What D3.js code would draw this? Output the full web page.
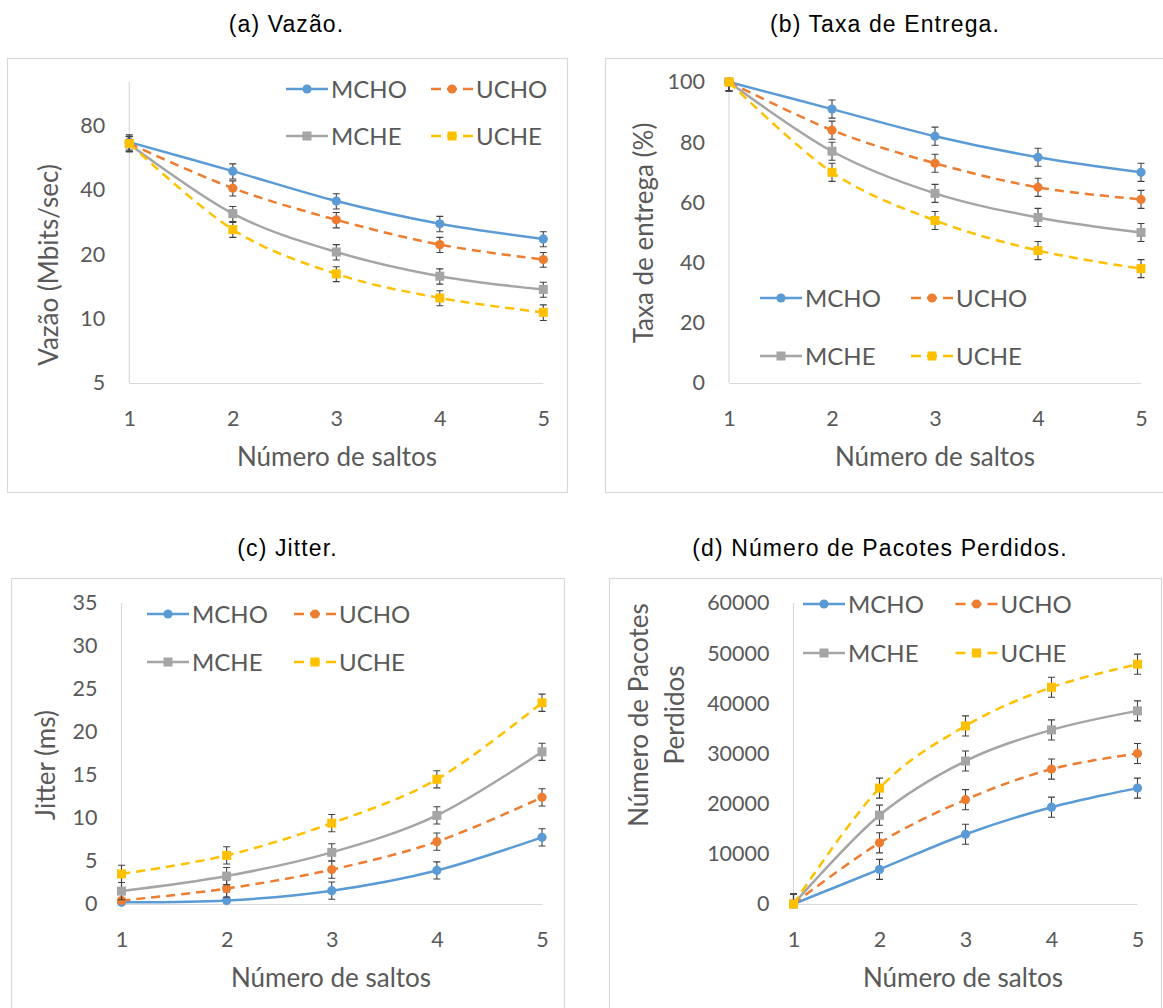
<!DOCTYPE html>
<html>
<head>
<meta charset="utf-8">
<script src="https://cdn.jsdelivr.net/npm/d3@7"></script>
<style>
  html, body { margin: 0; padding: 0; background: #fff; }
  svg { display: block; }
</style>
</head>
<body>
<svg id="chart" width="1163" height="1008"></svg>
<script>
// ---------------- DATA ----------------
const hops = [1, 2, 3, 4, 5];
const seriesNames = ["MCHO", "UCHO", "MCHE", "UCHE"];

// (a) Vazão (Mbits/sec) - log2 axis
const vazaoMCHO = [67, 49, 35.5, 27.8, 23.6];
const vazaoUCHO = [66, 40.8, 29, 22.2, 18.9];
const vazaoMCHE = [65.7, 31, 20.5, 15.8, 13.7];
const vazaoUCHE = [66, 26.1, 16.2, 12.5, 10.7];
const vazaoErrMCHO = [5.5, 4, 2.9, 2.3, 1.9];
const vazaoErrUCHO = [5.4, 3.3, 2.4, 1.8, 1.5];
const vazaoErrMCHE = [5.4, 2.5, 1.7, 1.3, 1.1];
const vazaoErrUCHE = [5.4, 2.1, 1.3, 1.0, 0.9];
const vazaoTicks = [5, 10, 20, 40, 80];

// (b) Taxa de entrega (%)
const taxaMCHO = [100, 91, 82, 75, 70];
const taxaUCHO = [100, 84, 73, 65, 61];
const taxaMCHE = [100, 77, 63, 55, 50];
const taxaUCHE = [100, 70, 54, 44, 38];
const taxaErr = [3, 3, 3, 3, 3];
const taxaTicks = [0, 20, 40, 60, 80, 100];

// (c) Jitter (ms)
const jitterMCHO = [0.2, 0.4, 1.55, 3.9, 7.75];
const jitterUCHO = [0.4, 1.8, 4.0, 7.25, 12.4];
const jitterMCHE = [1.5, 3.25, 6.0, 10.3, 17.7];
const jitterUCHE = [3.5, 5.65, 9.4, 14.5, 23.4];
const jitterErr = [1, 1, 1, 1, 1];
const jitterTicks = [0, 5, 10, 15, 20, 25, 30, 35];

// (d) Número de Pacotes Perdidos
const perdidosMCHO = [0, 6900, 13900, 19300, 23100];
const perdidosUCHO = [0, 12200, 20800, 26900, 30000];
const perdidosMCHE = [0, 17700, 28500, 34700, 38500];
const perdidosUCHE = [0, 23100, 35500, 43200, 47800];
const perdidosErr = [2000, 2000, 2000, 2000, 2000];
const perdidosTicks = [0, 10000, 20000, 30000, 40000, 50000, 60000];

// ---------------- STYLE ----------------
const colors = { MCHO: "#5B9BD5", UCHO: "#ED7D31", MCHE: "#A5A5A5", UCHE: "#FFC000" };
const dashed = { MCHO: false, UCHO: true, MCHE: false, UCHE: true };
const shape = { MCHO: "circle", UCHO: "circle", MCHE: "square", UCHE: "square" };
const FONT = "Lato, 'Open Sans', sans-serif";
const TITLE_FONT = "'Liberation Sans', Arial, sans-serif";
const GREY_TXT = "#595959";
const AXIS_LINE = "#d9d9d9";

const svg = d3.select("#chart");

const panels = [
  {
    title: "(a) Vazão.", titleX: 286.5, titleY: 31.5,
    frame: [7, 58, 567, 492],
    xr: [129.3, 543.3], yr: [383, 82],
    yScale: () => d3.scaleLog().base(2).domain([5, 128]),
    ticks: vazaoTicks,
    data: { MCHO: vazaoMCHO, UCHO: vazaoUCHO, MCHE: vazaoMCHE, UCHE: vazaoUCHE },
    err: { MCHO: vazaoErrMCHO, UCHO: vazaoErrUCHO, MCHE: vazaoErrMCHE, UCHE: vazaoErrUCHE },
    ylabel: ["Vazão (Mbits/sec)"], ylabelX: [58], ylabelY: 265,
    xlabelX: 337, xlabelY: 466,
    legend: { x0: 286, x1: 431, y0: 89, y1: 136 }
  },
  {
    title: "(b) Taxa de Entrega.", titleX: 885, titleY: 31.5,
    frame: [605, 58, 1175, 492],
    xr: [729, 1141], yr: [383, 82],
    yScale: () => d3.scaleLinear().domain([0, 100]),
    ticks: taxaTicks,
    data: { MCHO: taxaMCHO, UCHO: taxaUCHO, MCHE: taxaMCHE, UCHE: taxaUCHE },
    err: { MCHO: taxaErr, UCHO: taxaErr, MCHE: taxaErr, UCHE: taxaErr },
    ylabel: ["Taxa de entrega (%)"], ylabelX: [653], ylabelY: 233,
    xlabelX: 935, xlabelY: 466,
    legend: { x0: 760, x1: 911, y0: 298, y1: 356 }
  },
  {
    title: "(c) Jitter.", titleX: 287.5, titleY: 555.5,
    frame: [11, 578, 564, 1030],
    xr: [121.5, 542], yr: [904, 603],
    yScale: () => d3.scaleLinear().domain([0, 35]),
    ticks: jitterTicks,
    data: { MCHO: jitterMCHO, UCHO: jitterUCHO, MCHE: jitterMCHE, UCHE: jitterUCHE },
    err: { MCHO: jitterErr, UCHO: jitterErr, MCHE: jitterErr, UCHE: jitterErr },
    ylabel: ["Jitter (ms)"], ylabelX: [55], ylabelY: 765,
    xlabelX: 331, xlabelY: 987,
    legend: { x0: 147, x1: 294, y0: 614, y1: 662 }
  },
  {
    title: "(d) Número de Pacotes Perdidos.", titleX: 880, titleY: 555.5,
    frame: [609, 578, 1161, 1030],
    xr: [793.5, 1137.5], yr: [904, 603],
    yScale: () => d3.scaleLinear().domain([0, 60000]),
    ticks: perdidosTicks,
    data: { MCHO: perdidosMCHO, UCHO: perdidosUCHO, MCHE: perdidosMCHE, UCHE: perdidosUCHE },
    err: { MCHO: perdidosErr, UCHO: perdidosErr, MCHE: perdidosErr, UCHE: perdidosErr },
    ylabel: ["Número de Pacotes", "Perdidos"], ylabelX: [648, 684], ylabelY: 715,
    xlabelX: 963, xlabelY: 987,
    legend: { x0: 803, x1: 955.5, y0: 604, y1: 653 }
  }
];

function drawMarker(g, name, cx, cy) {
  if (shape[name] === "circle") {
    g.append("circle").attr("cx", cx).attr("cy", cy).attr("r", 4.6)
      .attr("fill", colors[name]);
  } else {
    g.append("rect").attr("x", cx - 4.5).attr("y", cy - 4.5)
      .attr("width", 9).attr("height", 9).attr("fill", colors[name]);
  }
}

panels.forEach((p, pi) => {
  const g = svg.append("g");
  // frame
  g.append("rect")
    .attr("x", p.frame[0] + 0.5).attr("y", p.frame[1] + 0.5)
    .attr("width", p.frame[2] - p.frame[0]).attr("height", p.frame[3] - p.frame[1])
    .attr("fill", "none").attr("stroke", AXIS_LINE).attr("stroke-width", 1.2);

  // title
  svg.append("text").attr("x", p.titleX).attr("y", p.titleY)
    .attr("text-anchor", "middle").attr("font-family", TITLE_FONT)
    .attr("font-size", 23).attr("letter-spacing", 1.1).attr("fill", "#000")
    .text(p.title);

  const x = d3.scaleLinear().domain([1, 5]).range(p.xr);
  const y = p.yScale().range(p.yr);

  // axes lines
  g.append("line").attr("x1", p.xr[0]).attr("x2", p.xr[1])
    .attr("y1", p.yr[0] + 0.5).attr("y2", p.yr[0] + 0.5)
    .attr("stroke", AXIS_LINE).attr("stroke-width", 1.2);
  g.append("line").attr("x1", p.xr[0]).attr("x2", p.xr[0])
    .attr("y1", p.yr[0]).attr("y2", p.yr[1])
    .attr("stroke", AXIS_LINE).attr("stroke-width", 1.2);

  // y axis
  const yAxis = d3.axisLeft(y).tickValues(p.ticks).tickSize(0).tickPadding(24)
    .tickFormat(d3.format("d"));
  const ya = g.append("g").attr("transform", `translate(${p.xr[0]},0)`).call(yAxis);
  ya.select(".domain").remove();
  ya.selectAll("text").attr("font-family", FONT).attr("font-size", 21.5)
    .attr("fill", GREY_TXT);

  // x axis
  const xAxis = d3.axisBottom(x).tickValues(hops).tickSize(0).tickPadding(28)
    .tickFormat(d3.format("d"));
  const xa = g.append("g").attr("transform", `translate(0,${p.yr[0]})`).call(xAxis);
  xa.select(".domain").remove();
  xa.selectAll("text").attr("font-family", FONT).attr("font-size", 21.5)
    .attr("fill", GREY_TXT);

  // axis titles
  g.append("text").attr("x", p.xlabelX).attr("y", p.xlabelY)
    .attr("text-anchor", "middle").attr("font-family", FONT).attr("font-size", 26)
    .attr("fill", GREY_TXT).text("Número de saltos");
  p.ylabel.forEach((t, i) => {
    g.append("text")
      .attr("transform", `translate(${p.ylabelX[i]},${p.ylabelY}) rotate(-90)`)
      .attr("text-anchor", "middle").attr("font-family", FONT).attr("font-size", 26)
      .attr("fill", GREY_TXT).text(t);
  });

  // clip for plot area
  const clipId = "clip" + pi;
  svg.append("clipPath").attr("id", clipId).append("rect")
    .attr("x", p.xr[0] - 20).attr("y", Math.min(p.yr[1], p.yr[0]) - 1)
    .attr("width", p.xr[1] - p.xr[0] + 40).attr("height", Math.abs(p.yr[0] - p.yr[1]) + 1.5);

  const line = d3.line().x((d, i) => x(hops[i])).y(d => y(d))
    .curve(d3.curveCardinal.tension(0));

  seriesNames.forEach(name => {
    const vals = p.data[name];
    const errs = p.err[name];
    const sg = g.append("g");
    sg.append("path").datum(vals).attr("d", line)
      .attr("fill", "none").attr("stroke", colors[name]).attr("stroke-width", 2.5)
      .attr("stroke-dasharray", dashed[name] ? "9,6" : null)
      .attr("stroke-linecap", "butt");
    // error bars
    const eg = sg.append("g").attr("clip-path", `url(#${clipId})`)
      .attr("stroke", "#404040").attr("stroke-width", 1.1);
    const dmin = y.domain()[0];
    vals.forEach((v, i) => {
      const cx = x(hops[i]);
      const hi = v + errs[i];
      const lo = (dmin > 0) ? Math.max(v - errs[i], dmin) : v - errs[i];
      const y1 = y(hi), y2 = y(lo);
      eg.append("line").attr("x1", cx).attr("x2", cx).attr("y1", y1).attr("y2", y2);
      eg.append("line").attr("x1", cx - 3.5).attr("x2", cx + 3.5).attr("y1", y1).attr("y2", y1);
      eg.append("line").attr("x1", cx - 3.5).attr("x2", cx + 3.5).attr("y1", y2).attr("y2", y2);
    });
    vals.forEach((v, i) => drawMarker(sg, name, x(hops[i]), y(v)));
  });

  // legend
  const L = p.legend;
  const pos = {
    MCHO: [L.x0, L.y0], UCHO: [L.x1, L.y0],
    MCHE: [L.x0, L.y1], UCHE: [L.x1, L.y1]
  };
  seriesNames.forEach(name => {
    const [lx, ly] = pos[name];
    const lg = g.append("g");
    lg.append("line").attr("x1", lx).attr("x2", lx + 42).attr("y1", ly).attr("y2", ly)
      .attr("stroke", colors[name]).attr("stroke-width", 2.5)
      .attr("stroke-dasharray", dashed[name] ? "10,6" : null);
    drawMarker(lg, name, lx + 21, ly);
    lg.append("text").attr("x", lx + 45).attr("y", ly).attr("dy", "0.36em")
      .attr("font-family", FONT).attr("font-size", 24).attr("fill", GREY_TXT)
      .text(name);
  });
});
</script>
</body>
</html>
